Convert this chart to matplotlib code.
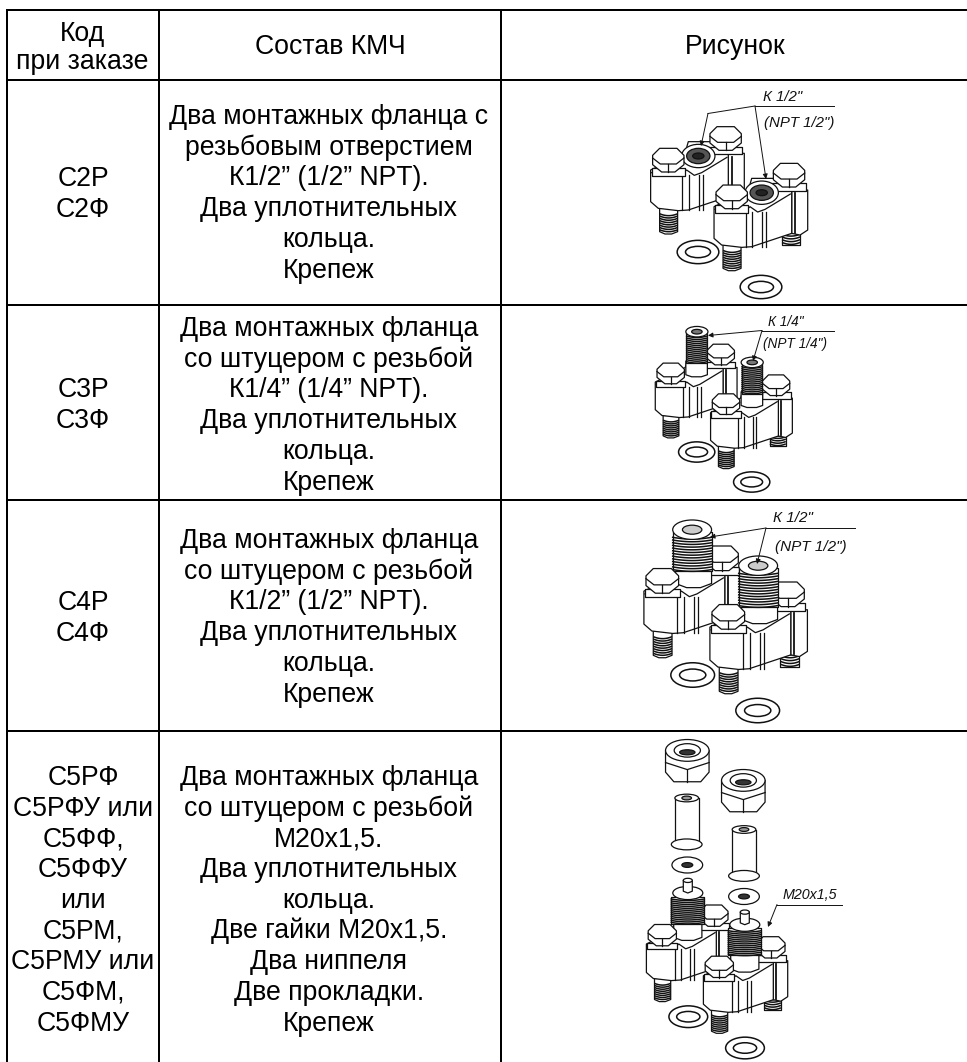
import matplotlib
matplotlib.use('Agg')
import matplotlib.pyplot as pl
from matplotlib.patches import Ellipse, Polygon
import numpy as np

W, H = 967, 1062
pl.rcParams['font.family'] = ['Liberation Sans', 'DejaVu Sans']

# table text
headers = ['Состав КМЧ', 'Рисунок']
header_code = ['Код', 'при заказе']
codes = [
    ['С2Р', 'С2Ф'],
    ['С3Р', 'С3Ф'],
    ['С4Р', 'С4Ф'],
    ['С5РФ', 'С5РФУ или', 'С5ФФ,', 'С5ФФУ', 'или', 'С5РМ,', 'С5РМУ или', 'С5ФМ,', 'С5ФМУ'],
]
contents = [
    ['Два монтажных фланца с', 'резьбовым отверстием', 'К1/2” (1/2” NPT).',
     'Два уплотнительных', 'кольца.', 'Крепеж'],
    ['Два монтажных фланца', 'со штуцером с резьбой', 'К1/4” (1/4” NPT).',
     'Два уплотнительных', 'кольца.', 'Крепеж'],
    ['Два монтажных фланца', 'со штуцером с резьбой', 'К1/2” (1/2” NPT).',
     'Два уплотнительных', 'кольца.', 'Крепеж'],
    ['Два монтажных фланца', 'со штуцером с резьбой', 'М20х1,5.',
     'Два уплотнительных', 'кольца.', 'Две гайки М20х1,5.', 'Два ниппеля',
     'Две прокладки.', 'Крепеж'],
]
callouts = [['К 1/2"', '(NPT 1/2")'], ['К 1/4"', '(NPT 1/4")'],
            ['К 1/2"', '(NPT 1/2")'], ['М20х1,5']]

# layout in pixels
col_x = [7, 159, 501]
row_y = [10, 80, 304.5, 500, 731]
first_base = [124, 336, 548, 785]
code_base = [186.5, 397, 610, 785]
line_step = 30.7

fig = pl.figure(figsize=(W / 100, H / 100), dpi=100)
ax = fig.add_axes([0, 0, 1, 1])
ax.set_xlim(0, W)
ax.set_ylim(H, 0)
ax.axis('off')

lw_table = 1.44
lw_draw = 0.9
FS = 19.2
INK = '#111111'


def outline(pts, z, fc='white', lw=lw_draw):
    ax.add_patch(Polygon(pts, closed=True, fc=fc, ec=INK, lw=lw, zorder=z, joinstyle='round'))


def ell(x, y, w, h, z, fc='white', lw=lw_draw):
    ax.add_patch(Ellipse((x, y), w, h, fc=fc, ec=INK, lw=lw, zorder=z))


def ring(x, y, s):
    ell(x, y, 125 * s, 70 * s, 5, lw=1.1)
    ell(x, y, 75 * s, 34 * s, 5, lw=1.1)


def threads(cx, top, bottom, width, s, z, n):
    # dark threaded part, a stack of bent lines
    for yy in np.linspace(top, bottom, n):
        u = np.linspace(-1, 1, 20)
        ax.plot(cx + u * width / 2, yy + 5 * s * (1 - u ** 2), c=INK, lw=1.1, zorder=z)


def head(ox, oy, s, z):
    f = lambda pts: [(ox + s * x, oy + s * y) for x, y in pts]
    outline(f([(-50, 25), (50, 25), (50, 48), (-50, 48)]), z)
    outline(f([(-47, -14), (-26, -35), (26, -35), (47, -14), (47, 14), (20, 36), (-20, 36), (-47, 14)]), z)
    ax.plot(*zip(*f([(-47, -6), (-24, 12), (24, 12), (47, -6)])), c=INK, lw=lw_draw, zorder=z)
    ax.plot(*zip(*f([(0, 12), (0, 36)])), c=INK, lw=lw_draw, zorder=z)


def flange(ox, oy, s, kind, z):
    f = lambda pts: [(ox + s * x, oy + s * y) for x, y in pts]

    # right stud and cylinder behind the plate
    outline(f([(150, 95), (205, 95), (205, 145), (150, 145)]), z)
    threads(ox + s * 178, oy + s * 105, oy + s * 138, 50 * s, s, z, 5)
    outline(f([(180, -20), (228, -20), (228, 100), (205, 115), (180, 110)]), z)
    ax.plot(*zip(*f([(190, -10), (190, 108)])), c=INK, lw=1.3, zorder=z)

    # left stud
    outline(f([(-26, 145), (28, 145), (28, 215), (10, 222), (-10, 222), (-26, 215)]), z)
    threads(ox + s, oy + s * 162, oy + s * 210, 50 * s, s, z, 8)

    # body and top edges
    outline(f([(-53, 30), (-53, 125), (-30, 145), (30, 152), (60, 150), (180, 110),
               (180, -20), (150, -55), (60, -55), (50, -20)]), z)
    ax.plot(*zip(*f([(-50, 38), (-20, 48), (38, 44), (55, 30), (78, 46), (100, 38), (176, -8)])),
            c=INK, lw=lw_draw, zorder=z)
    for x in [42, 62, 92, 104]:
        ax.plot(*zip(*f([(x, 46), (x, 150)])), c=INK, lw=lw_draw, zorder=z)

    head(ox + s * 172, oy - s * 65, s, z)

    cx, cy = ox + s * 90, oy - s * 12
    if kind == 'hole':
        ell(cx, cy, 100 * s, 70 * s, z)
        ell(cx, cy, 70 * s, 46 * s, z, fc='#555555')
        ell(cx, cy, 34 * s, 18 * s, z, fc='#222222')
    elif kind == 'small':
        outline(f([(52, -42), (126, -42), (126, 5), (105, 12), (72, 12), (52, 5)]), z)
        outline(f([(54, -140), (124, -140), (124, -36), (54, -36)]), z)
        threads(cx, oy - s * 128, oy - s * 40, 70 * s, s, z, 14)
        ell(cx, oy - s * 143, 76 * s, 36 * s, z)
        ell(cx, oy - s * 143, 36 * s, 16 * s, z, fc='#777777')
    elif kind == 'large':
        outline(f([(38, -34), (142, -34), (142, 8), (110, 20), (70, 20), (38, 8)]), z)
        outline(f([(30, -140), (142, -140), (142, -28), (30, -28)]), z)
        threads(ox + s * 86, oy - s * 125, oy - s * 32, 112 * s, s, z, 13)
        ell(ox + s * 86, oy - s * 147, 112 * s, 56 * s, z)
        ell(ox + s * 86, oy - s * 147, 56 * s, 26 * s, z, fc='#cccccc')
    elif kind == 'm20':
        outline(f([(38, -40), (132, -40), (132, 8), (105, 18), (65, 18), (38, 8)]), z)
        outline(f([(30, -128), (140, -128), (140, -38), (30, -38)]), z)
        threads(ox + s * 85, oy - s * 120, oy - s * 42, 110 * s, s, z, 13)
        ell(ox + s * 85, oy - s * 140, 100 * s, 44 * s, z)
        outline(f([(70, -182), (100, -182), (100, -146), (85, -140), (70, -146)]), z)
        ell(ox + s * 85, oy - s * 182, 30 * s, 14 * s, z)

    head(ox, oy, s, z)


def nut(x, y, s):
    f = lambda pts: [(x + s * a, y + s * b) for a, b in pts]
    outline(f([(-68, -30), (68, -30), (68, 38), (42, 68), (-42, 68), (-68, 38)]), 6)
    ax.plot(*zip(*f([(-68, 8), (0, 30), (68, 8)])), c=INK, lw=lw_draw, zorder=6)
    ax.plot(*zip(*f([(0, 30), (0, 68)])), c=INK, lw=lw_draw, zorder=6)
    ell(x, y - 30 * s, 136 * s, 68 * s, 6)
    ell(x, y - 30 * s, 82 * s, 42 * s, 6)
    ell(x, y - 24 * s, 48 * s, 16 * s, 6, fc='#333333')


def nipple(x, y, s):
    f = lambda pts: [(x + s * a, y + s * b) for a, b in pts]
    outline(f([(-37, -75), (37, -75), (37, 60), (-37, 60)]), 6)
    ell(x, y - 75 * s, 74 * s, 24 * s, 6)
    ell(x, y - 75 * s, 30 * s, 12 * s, 6, fc='#999999')
    ell(x, y + 70 * s, 96 * s, 34 * s, 6)


def washer(x, y, s):
    ell(x, y, 96 * s, 50 * s, 6)
    ell(x, y, 34 * s, 15 * s, 6, fc='#333333')


def leader(arrows, text_top, text_bottom, x_text, y_top, y_bot, fs):
    for a, b in arrows:
        ax.annotate('', xy=b, xytext=a, zorder=7,
                    arrowprops=dict(arrowstyle='-|>', lw=0.7, color=INK, mutation_scale=7, shrinkA=0, shrinkB=0))
    for txt, yy, xx in [(text_top, y_top, x_text[0]), (text_bottom, y_bot, x_text[1])]:
        ax.text(xx, yy, txt, fontsize=fs, style='italic', va='baseline', ha='left', zorder=7, color=INK)


# grid
for yy in row_y:
    ax.plot([col_x[0] - 1, W], [yy, yy], c='black', lw=lw_table, solid_capstyle='butt', zorder=3)
for xx in col_x:
    ax.plot([xx, xx], [row_y[0], H], c='black', lw=lw_table, solid_capstyle='butt', zorder=3)

# header
ax.text(82.5, 41, header_code[0], fontsize=FS, ha='center', va='baseline')
ax.text(82.5, 69, header_code[1], fontsize=FS, ha='center', va='baseline')
ax.text(330, 54, headers[0], fontsize=FS, ha='center', va='baseline')
ax.text(735, 54, headers[1], fontsize=FS, ha='center', va='baseline')

# body
for i in range(len(codes)):
    for j, txt in enumerate(codes[i]):
        ax.text(83, code_base[i] + j * line_step, txt, fontsize=FS, ha='center', va='baseline')
    for j, txt in enumerate(contents[i]):
        ax.text(329, first_base[i] + j * line_step, txt, fontsize=FS, ha='center', va='baseline')

# row 1 picture
flange(668.3, 160, 1 / 3, 'hole', 4)
flange(731.7, 196.7, 1 / 3, 'hole', 5)
ring(698, 252, 1 / 3)
ring(761, 287, 1 / 3)
ax.plot([755, 708], [106, 113.5], c=INK, lw=0.7, zorder=7)
leader([((708, 113.5), (701, 146)), ((755, 106), (766, 179))],
       callouts[0][0], callouts[0][1], (763, 764), 101, 127, 10.8)
ax.plot([755, 834], [106, 106], c=INK, lw=0.7, zorder=7)

# row 2 picture
flange(670.7, 373.3, 0.291, 'small', 4)
flange(726, 404, 0.291, 'small', 5)
ring(696.7, 452, 0.29)
ring(751.7, 482, 0.29)
leader([((762, 330.5), (708, 335.5)), ((762, 330.5), (753, 361))],
       callouts[1][0], callouts[1][1], (768, 763), 326, 348, 9.8)
ax.plot([762, 834], [330.5, 330.5], c=INK, lw=0.7, zorder=7)

# row 3 picture
flange(662.3, 580.7, 0.347, 'large', 4)
flange(728.3, 616.7, 0.347, 'large', 5)
ring(692.7, 675, 0.35)
ring(757.7, 710.5, 0.35)
leader([((766, 528), (710, 537)), ((766, 528), (757, 564))],
       callouts[2][0], callouts[2][1], (773, 775), 522, 551, 11)
ax.plot([766, 855], [528, 528], c=INK, lw=0.7, zorder=7)

# row 4 picture
nut(687.3, 760, 0.32)
nut(743.3, 790, 0.32)
nipple(686.7, 822, 0.32)
nipple(744, 853.5, 0.32)
washer(687.3, 865, 0.32)
washer(744, 896.5, 0.32)
flange(662.3, 935, 0.3, 'm20', 4)
flange(719.3, 966.7, 0.3, 'm20', 5)
ring(688.3, 1016.7, 0.31)
ring(745, 1048, 0.31)
leader([((777, 904.5), (768, 927))], callouts[3][0], '', (783, 783), 899, 899, 10.3)
ax.plot([777, 842], [904.5, 904.5], c=INK, lw=0.7, zorder=7)

pl.savefig('out.png', dpi=100)
